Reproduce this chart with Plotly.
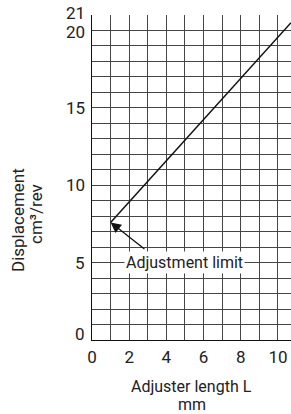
import plotly.graph_objects as go

# Data
length_mm = [1.0, 10.7]
displacement = [7.6, 20.5]
x_ticks = [0, 2, 4, 6, 8, 10]
y_ticks = [0, 5, 10, 15, 20, 21]
limit_point = (1.0, 7.6)
limit_label = "Adjustment limit"

FONT = "Roboto, sans-serif"
GRID = "#454545"
TXT = "#222"

fig = go.Figure()
fig.add_trace(go.Scatter(x=length_mm, y=displacement, mode="lines",
                         line=dict(color="#111", width=1.5), showlegend=False,
                         hoverinfo="skip"))

# arrow to the adjustment limit
fig.add_annotation(x=limit_point[0], y=limit_point[1], ax=2.9, ay=5.8,
                   axref="x", ayref="y", xref="x", yref="y", text="",
                   showarrow=True, arrowhead=2, arrowsize=1.6, arrowwidth=1.3,
                   arrowcolor="#111")
fig.add_annotation(x=5.0, y=5.0, xref="x", yref="y", text=limit_label,
                   showarrow=False, bgcolor="white", borderpad=1,
                   font=dict(family=FONT, size=16, color=TXT))

# y tick labels (nudged like the reference)
y_nudge = {0: 6, 20: -2, 21: 2}
for v in y_ticks:
    fig.add_annotation(x=0, y=v, xref="x", yref="y", text=str(v), showarrow=False,
                       xanchor="right", yanchor="middle", xshift=-5,
                       yshift=y_nudge.get(v, 0),
                       font=dict(family=FONT, size=17, color=TXT))

# axis titles
fig.add_annotation(x=0.5, y=0, xref="paper", yref="paper", text="Adjuster length L",
                   showarrow=False, xanchor="center", yanchor="middle", yshift=-46,
                   font=dict(family=FONT, size=16, color=TXT))
fig.add_annotation(x=0.5, y=0, xref="paper", yref="paper", text="mm",
                   showarrow=False, xanchor="center", yanchor="middle", yshift=-64,
                   font=dict(family=FONT, size=16, color=TXT))
fig.add_annotation(x=0, y=0, xref="paper", yref="paper", text="Displacement",
                   showarrow=False, textangle=-90, xanchor="center", yanchor="middle",
                   xshift=-74, yshift=120,
                   font=dict(family=FONT, size=17, color=TXT))
fig.add_annotation(x=0, y=0, xref="paper", yref="paper", text="cm³/rev",
                   showarrow=False, textangle=-90, xanchor="center", yanchor="middle",
                   xshift=-56, yshift=126,
                   font=dict(family=FONT, size=17, color=TXT))

fig.update_xaxes(range=[0, 10.7], tickvals=x_ticks, showgrid=True, gridcolor=GRID,
                 gridwidth=1, minor=dict(dtick=1, tick0=0, showgrid=True,
                                         gridcolor=GRID, gridwidth=1),
                 showline=True, linecolor="#111", linewidth=1.2, zeroline=False,
                 ticks="", ticklabelstandoff=1, automargin=False,
                 tickfont=dict(family=FONT, size=17, color=TXT))
fig.update_yaxes(range=[0, 21], tickvals=y_ticks, showticklabels=False,
                 showgrid=True, gridcolor=GRID,
                 gridwidth=1, minor=dict(dtick=1, tick0=0, showgrid=True,
                                         gridcolor=GRID, gridwidth=1),
                 showline=True, linecolor="#111", linewidth=1.2, zeroline=False,
                 ticks="", automargin=False)

fig.update_layout(width=291, height=414, margin=dict(l=92, r=0, t=15, b=74),
                  plot_bgcolor="white", paper_bgcolor="white")
fig.write_html("out.html", config={"displayModeBar": False},
               post_script="document.body.style.margin='0';document.body.style.overflow='hidden';")
